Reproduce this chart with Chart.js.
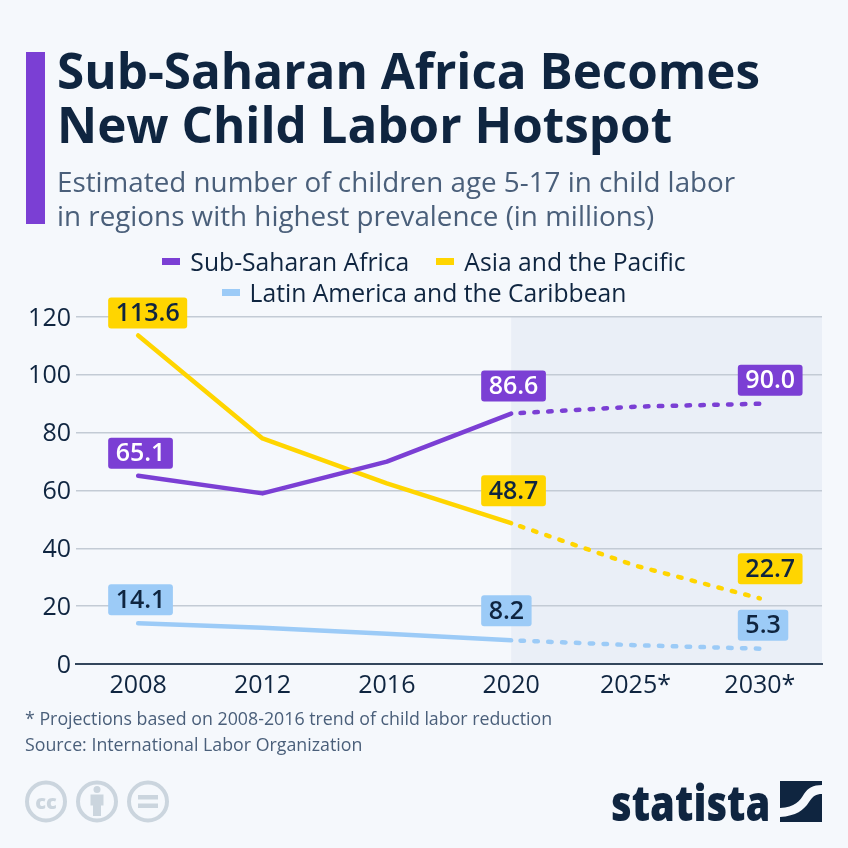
<!DOCTYPE html>
<html>
<head>
<meta charset="utf-8">
<title>Sub-Saharan Africa Becomes New Child Labor Hotspot</title>
<script src="https://cdn.jsdelivr.net/npm/chart.js@4/dist/chart.umd.min.js"></script>
<style>
  html, body { margin: 0; padding: 0; background: #f5f8fc; }
  body { width: 848px; height: 848px; position: relative; overflow: hidden; font-family: "Open Sans", sans-serif; }
  #chart { position: absolute; left: 0; top: 0; }
  .bar { position: absolute; left: 26px; top: 52px; width: 19px; height: 172px; background: #7b3fd4; }
  h1 { position: absolute; left: 57px; top: 43px; margin: 0; font-size: 49.4px; line-height: 54px; font-weight: 700; color: #0f2540; white-space: nowrap; }
  .sub { position: absolute; left: 57px; top: 164px; font-size: 27.8px; line-height: 34px; color: #4a5f7a; white-space: nowrap; }
  .note { position: absolute; left: 25px; font-size: 17.8px; line-height: 20px; color: #4a5f7a; white-space: nowrap; }
  #legend { position: absolute; left: 124px; top: 246px; width: 600px; display: flex; flex-wrap: wrap; justify-content: center; column-gap: 27px; font-size: 24.7px; line-height: 31px; color: #0f2540; }
  #legend span { display: flex; align-items: center; white-space: nowrap; }
  #legend i { display: block; width: 18px; height: 7px; margin-right: 10px; }
  .logo { position: absolute; left: 611px; top: 771px; font-size: 50px; line-height: 62px; font-weight: 800; color: #0f2540; transform: scaleX(0.8); transform-origin: left top; white-space: nowrap; }
  svg { position: absolute; }
</style>
</head>
<body>
<canvas id="chart" width="848" height="848"></canvas>
<div class="bar"></div>
<h1>Sub-Saharan Africa Becomes<br>New Child Labor Hotspot</h1>
<div class="sub">Estimated number of children age 5-17 in child labor<br>in regions with highest prevalence (in millions)</div>
<div id="legend"></div>
<div class="note" style="top:708px">* Projections based on 2008-2016 trend of child labor reduction</div>
<div class="note" style="top:734px">Source: International Labor Organization</div>

<svg style="left:25px;top:780px" width="145" height="43" viewBox="0 0 145 43">
  <g fill="none" stroke="#cbd5de" stroke-width="4">
    <circle cx="21" cy="21.5" r="19"/>
    <circle cx="72" cy="21.5" r="19"/>
    <circle cx="123" cy="21.5" r="19"/>
  </g>
  <text x="21" y="28.5" text-anchor="middle" font-family="Open Sans" font-weight="800" font-size="20" fill="#cbd5de">cc</text>
  <g fill="#cbd5de">
    <circle cx="72" cy="9.5" r="3.5"/>
    <rect x="65.5" y="14.5" width="13" height="11"/>
    <rect x="68" y="25" width="8" height="11"/>
    <rect x="113" y="15" width="20" height="4.5"/>
    <rect x="113" y="23.5" width="20" height="4.5"/>
  </g>
</svg>
<div class="logo">statista</div>
<svg style="left:780px;top:781px" width="42" height="41" viewBox="0 0 42 41">
  <path fill="#0f2540" d="M0 0H42V4C33 4 28 7 24 13C20 20 15 26 0 27Z M42 13V41H0V36C16 35 24 29 29 21C33 15 36 13 42 13Z"/>
</svg>

<script>
const categories = ['2008', '2012', '2016', '2020', '2025*', '2030*'];
const yTicks = [0, 20, 40, 60, 80, 100, 120];

const africaValues = [65.1, 59, 70, 86.6, 89, 90.0];
const asiaValues = [113.6, 78, 62.5, 48.7, 34, 22.7];
const latinValues = [14.1, 12.5, 10.5, 8.2, 6.5, 5.3];

const PURPLE = '#7b3fd4';
const YELLOW = '#ffd500';
const BLUE = '#9ccbf7';
const INK = '#0f2540';

// index of the first projected point, the shaded area and the dashes start there
const lastActual = 3;

// labelled points: index -> distance between the point and the bottom of its box
const labelGaps = [
    { 0: 7, 3: 12, 5: 8 },
    { 0: 7, 3: 17, 5: 14 },
    { 0: 8, 3: 14, 5: 8 }
];

const series = (label, data, color, textColor) => ({
    label: label,
    data: data,
    borderColor: color,
    backgroundColor: color,
    textColor: textColor,
    borderWidth: 4.5,
    borderCapStyle: 'round',
    borderJoinStyle: 'round',
    pointRadius: 0,
    tension: 0,
    segment: {
        borderDash: (ctx) => ctx.p0DataIndex >= lastActual ? [3.5, 10.35] : undefined,
        borderDashOffset: (ctx) => ctx.p0DataIndex >= lastActual ? 4.5 : 0
    }
});

const shadePlugin = {
    id: 'shade',
    beforeDraw(chart) {
        const { ctx, chartArea, scales } = chart;
        const x = scales.x.getPixelForValue(lastActual);
        ctx.save();
        ctx.fillStyle = '#eaeff7';
        ctx.fillRect(x, chartArea.top, chartArea.right - x, chartArea.bottom - chartArea.top);
        ctx.restore();
    }
};

const boxLabelPlugin = {
    id: 'boxLabels',
    afterDatasetsDraw(chart) {
        const { ctx } = chart;
        ctx.save();
        ctx.font = '600 25px "Open Sans"';
        ctx.textBaseline = 'middle';
        ctx.textAlign = 'left';
        chart.data.datasets.forEach((ds, d) => {
            const points = chart.getDatasetMeta(d).data;
            Object.keys(labelGaps[d]).forEach((key) => {
                const i = Number(key);
                const text = ds.data[i].toFixed(1);
                const w = ctx.measureText(text).width + 15;
                const h = 31;
                // last column is pulled in so the box stays inside the plot
                const x = points[i].x - (i === categories.length - 1 ? 22 : 30);
                const y = points[i].y - labelGaps[d][i] - h;
                ctx.fillStyle = ds.borderColor;
                ctx.beginPath();
                ctx.roundRect(x, y, w, h, 3);
                ctx.fill();
                ctx.fillStyle = ds.textColor;
                ctx.fillText(text, x + 7.5, y + h / 2 + 1);
            });
        });
        ctx.restore();
    }
};

const chart = new Chart(document.getElementById('chart'), {
    type: 'line',
    plugins: [shadePlugin, boxLabelPlugin],
    data: {
        labels: categories,
        datasets: [
            series('Sub-Saharan Africa', africaValues, PURPLE, '#ffffff'),
            series('Asia and the Pacific', asiaValues, YELLOW, INK),
            series('Latin America and the Caribbean', latinValues, BLUE, INK)
        ]
    },
    options: {
        responsive: false,
        animation: false,
        devicePixelRatio: 1,
        layout: {
            padding: { top: 317, left: 26, right: 26, bottom: 144 }
        },
        plugins: {
            tooltip: { enabled: false },
            legend: { display: false }
        },
        scales: {
            x: {
                offset: true,
                afterFit: (scale) => { scale.height = 40; },
                grid: { display: false },
                border: { color: '#33465c', width: 2 },
                ticks: {
                    color: INK,
                    padding: -1,
                    maxRotation: 0,
                    font: { family: '"Open Sans"', size: 25 }
                }
            },
            y: {
                min: 0,
                max: 120,
                afterFit: (scale) => { scale.width = 50; },
                afterBuildTicks: (scale) => { scale.ticks = yTicks.map((v) => ({ value: v })); },
                grid: { color: '#c3cbd5', lineWidth: 1.5, drawTicks: false },
                border: { display: false },
                ticks: {
                    color: INK,
                    padding: 5,
                    labelOffset: 1.5,
                    font: { family: '"Open Sans"', size: 25 }
                }
            }
        }
    }
});

// legend rows wrap tighter than the built-in legend allows, so it is built from the datasets
document.getElementById('legend').innerHTML = chart.data.datasets
    .map((ds) => `<span><i style="background:${ds.borderColor}"></i>${ds.label}</span>`)
    .join('');
</script>
</body>
</html>
